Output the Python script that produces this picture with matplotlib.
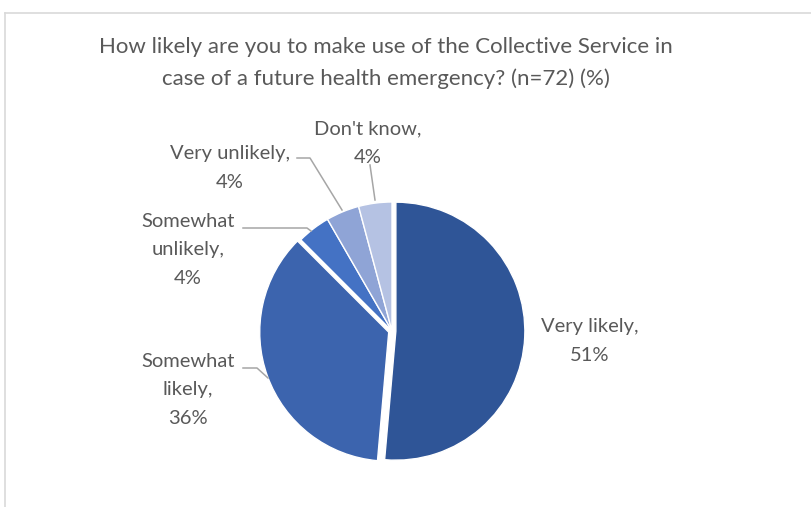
import numpy as np
import matplotlib.pyplot as plt

# Datos del gráfico (n=72 respuestas)
categorias = ["Very likely", "Somewhat likely", "Somewhat unlikely", "Very unlikely", "Don't know"]
respuestas = [37, 26, 3, 3, 3]   # 51%, 36%, 4%, 4%, 4%
etiquetas = ["Very likely,\n51%", "Somewhat\nlikely,\n36%", "Somewhat\nunlikely,\n4%",
             "Very unlikely,\n4%", "Don't know,\n4%"]
colores = ["#2F5597", "#3C64AE", "#4472C4", "#8FA4D6", "#B5C2E3"]
titulo = "How likely are you to make use of the Collective Service in\ncase of a future health emergency? (n=72) (%)"

plt.rcParams["font.family"] = ["Lato", "DejaVu Sans"]
gris = "#595959"

W, H = 812, 507
fig = plt.figure(figsize=(W / 100, H / 100), dpi=100)
ax = fig.add_axes([0, 0, 1, 1])
ax.set_xlim(0, W)
ax.set_ylim(0, H)
ax.axis("off")

# Marco del gráfico (solo borde superior e izquierdo visibles)
ax.plot([5.5, W], [H - 12.5, H - 12.5], color="#D9D9D9", lw=1.2)
ax.plot([5.5, 5.5], [H - 12.5, 0], color="#D9D9D9", lw=1.2)

# Pastel (explode en unidades de datos = píxeles)
centro = (392, H - 331)
radio = 129
explode = [0.03 * radio, 0.027 * radio, 0, 0, 0]
wedges, _ = ax.pie(respuestas, colors=colores, startangle=90, counterclock=False,
                   center=centro, radius=radio, explode=explode,
                   wedgeprops=dict(edgecolor="white", linewidth=1))
ax.set_aspect("equal")
ax.set_xlim(0, W)
ax.set_ylim(0, H)

# Título
ax.text(386, H - 63, titulo, ha="center", va="center", fontsize=16,
        color=gris, linespacing=1.7)

# Etiquetas de datos (posiciones en píxeles, y hacia arriba)
pos_etiquetas = [(590, H - 341), (188, H - 390), (188, H - 250), (230, H - 168), (368, H - 143)]
for txt, (x, y) in zip(etiquetas, pos_etiquetas):
    ax.text(x, y, txt, ha="center", va="center", fontsize=14.5, color=gris, linespacing=1.85)

# Líneas guía
lineas = [
    [(243, 368), (257, 368), (268, 378)],
    [(243, 228), (307, 228), (311, 231)],
    [(297, 158), (310, 158), (342, 210)],
    [(370, 165), (375, 200)],
]
for pts in lineas:
    xs = [p[0] for p in pts]
    ys = [H - p[1] for p in pts]
    ax.plot(xs, ys, color="#A6A6A6", lw=1.1)

fig.savefig("out.png", dpi=100, facecolor="white")
